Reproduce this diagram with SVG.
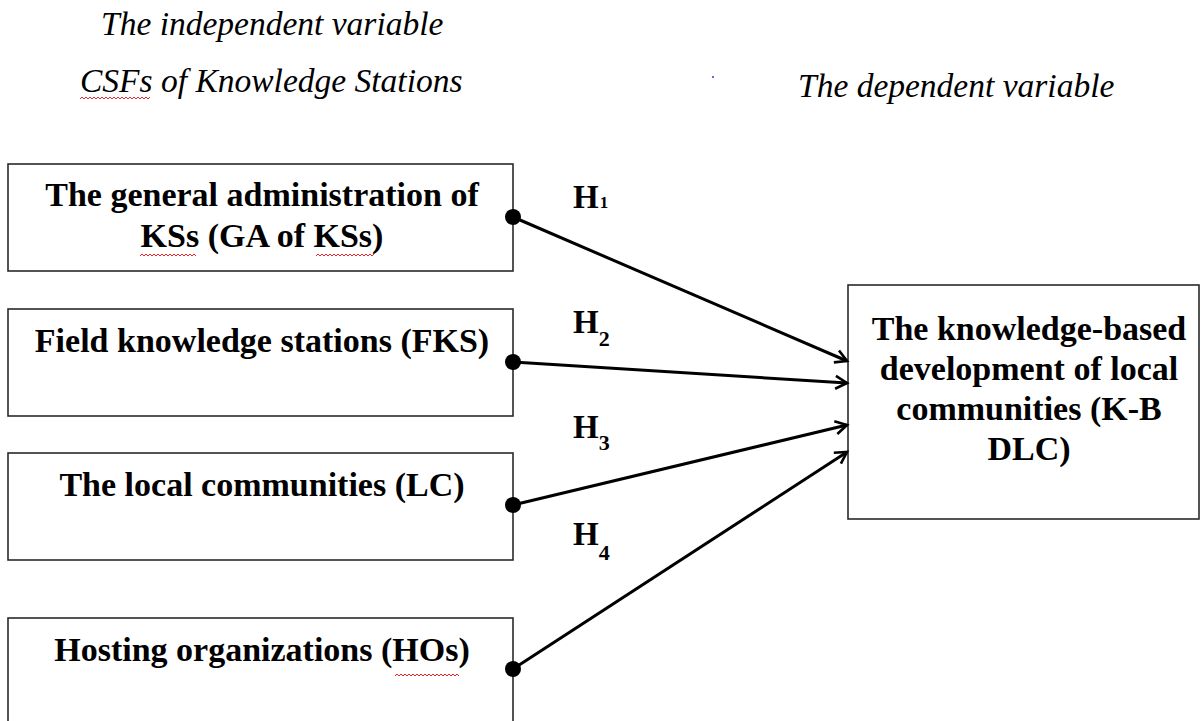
<svg xmlns="http://www.w3.org/2000/svg" width="1201" height="721" viewBox="0 0 1201 721">
  <defs>
    <style>
      .box { fill: #ffffff; stroke: #2a2a2a; stroke-width: 1.6; }
      .lbl { font-family: "Liberation Serif", "Times New Roman", serif; font-weight: bold; font-size: 34px; fill: #000; text-anchor: middle; }
      .ital { font-family: "Liberation Serif", "Times New Roman", serif; font-style: italic; font-size: 33.5px; fill: #000; }
      .h { font-family: "Liberation Serif", "Times New Roman", serif; font-weight: bold; font-size: 33px; fill: #000; }
      .conn { stroke: #000; stroke-width: 3; fill: none; }
      .dot { fill: #000; }
      .sq { stroke: #e8262a; stroke-width: 1; fill: none; }
    </style>
    <marker id="arr" markerUnits="userSpaceOnUse" viewBox="0 0 16 16" markerWidth="16" markerHeight="16" refX="13" refY="8" orient="auto">
      <path d="M1.5,1.5 L13,8 L1.5,14.5" fill="none" stroke="#000" stroke-width="2.6" stroke-linejoin="miter"/>
    </marker>
  </defs>
  <rect width="1201" height="721" fill="#ffffff"/>

  <g id="headers">
    <text class="ital" x="101" y="35">The independent variable</text>
    <text class="ital" x="80" y="92">CSFs of Knowledge Stations</text>
    <text class="ital" x="798" y="97">The dependent variable</text>
    <circle cx="713" cy="77" r="1" fill="#3030ff"/>
    <path class="sq" d="M80,99 l2,-2 l2,2 l2,-2 l2,2 l2,-2 l2,2 l2,-2 l2,2 l2,-2 l2,2 l2,-2 l2,2 l2,-2 l2,2 l2,-2 l2,2 l2,-2 l2,2 l2,-2 l2,2 l2,-2 l2,2 l2,-2 l2,2 l2,-2 l2,2 l2,-2 l2,2 l2,-2 l2,2 l2,-2 l2,2 l2,-2 l2,2 l2,-2"/>
  </g>

  <g id="node-ga">
    <rect class="box" x="8" y="164" width="505" height="107"/>
    <text class="lbl" x="262" y="206">The general administration of</text>
    <text class="lbl" x="262" y="247">KSs (GA of KSs)</text>
    <path class="sq" d="M140,256 l2,-2 l2,2 l2,-2 l2,2 l2,-2 l2,2 l2,-2 l2,2 l2,-2 l2,2 l2,-2 l2,2 l2,-2 l2,2 l2,-2 l2,2 l2,-2 l2,2 l2,-2 l2,2 l2,-2 l2,2 l2,-2 l2,2 l2,-2 l2,2 l2,-2 l2,2"/>
    <path class="sq" d="M316,256 l2,-2 l2,2 l2,-2 l2,2 l2,-2 l2,2 l2,-2 l2,2 l2,-2 l2,2 l2,-2 l2,2 l2,-2 l2,2 l2,-2 l2,2 l2,-2 l2,2 l2,-2 l2,2 l2,-2 l2,2 l2,-2 l2,2 l2,-2 l2,2 l2,-2 l2,2 l2,-2"/>
  </g>

  <g id="node-fks">
    <rect class="box" x="8" y="309" width="505" height="107"/>
    <text class="lbl" x="262" y="352">Field knowledge stations (FKS)</text>
  </g>

  <g id="node-lc">
    <rect class="box" x="8" y="453" width="505" height="107"/>
    <text class="lbl" x="262" y="496">The local communities (LC)</text>
  </g>

  <g id="node-hos">
    <rect class="box" x="8" y="618" width="505" height="110"/>
    <text class="lbl" x="262" y="661">Hosting organizations (HOs)</text>
    <path class="sq" d="M395,676 l2,-2 l2,2 l2,-2 l2,2 l2,-2 l2,2 l2,-2 l2,2 l2,-2 l2,2 l2,-2 l2,2 l2,-2 l2,2 l2,-2 l2,2 l2,-2 l2,2 l2,-2 l2,2 l2,-2 l2,2 l2,-2 l2,2 l2,-2 l2,2 l2,-2 l2,2 l2,-2 l2,2 l2,-2 l2,2"/>
  </g>

  <g id="node-kbdlc">
    <rect class="box" x="848" y="285" width="351" height="234"/>
    <text class="lbl" x="1029" y="340">The knowledge-based</text>
    <text class="lbl" x="1029" y="380">development of local</text>
    <text class="lbl" x="1029" y="420">communities (K-B</text>
    <text class="lbl" x="1029" y="460">DLC)</text>
  </g>

  <g id="connectors">
    <line class="conn" x1="513" y1="217" x2="847" y2="361" marker-end="url(#arr)"/>
    <line class="conn" x1="513" y1="362" x2="847" y2="383" marker-end="url(#arr)"/>
    <line class="conn" x1="513" y1="505" x2="847" y2="425" marker-end="url(#arr)"/>
    <line class="conn" x1="513" y1="669" x2="847" y2="452" marker-end="url(#arr)"/>
    <circle class="dot" cx="513" cy="217" r="8"/>
    <circle class="dot" cx="513" cy="362" r="8"/>
    <circle class="dot" cx="513" cy="505" r="8"/>
    <circle class="dot" cx="513" cy="669" r="8"/>
  </g>

  <g id="hypotheses">
    <text class="h" x="573" y="208">H<tspan font-size="17" dx="1">1</tspan></text>
    <text class="h" x="573" y="333">H<tspan font-size="22" dx="0" dy="13">2</tspan></text>
    <text class="h" x="573" y="438">H<tspan font-size="22" dx="0" dy="12">3</tspan></text>
    <text class="h" x="573" y="545">H<tspan font-size="22" dx="0" dy="15">4</tspan></text>
  </g>
</svg>
